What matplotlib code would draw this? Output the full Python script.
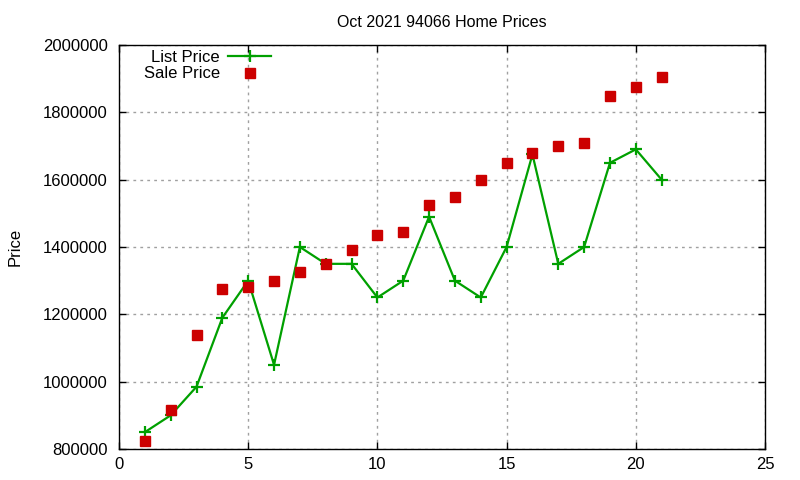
import matplotlib
matplotlib.use("Agg")
import matplotlib.pyplot as plt

plt.rcParams['font.family'] = ['Liberation Sans', 'DejaVu Sans']

# data
months = list(range(1, 22))
list_price = [850000, 900000, 985000, 1190000, 1300000, 1050000, 1400000,
              1350000, 1350000, 1250000, 1300000, 1490000, 1300000, 1250000,
              1400000, 1675000, 1350000, 1400000, 1650000, 1690000, 1600000]
sale_price = [825000, 915000, 1140000, 1275000, 1280000, 1300000, 1325000,
              1350000, 1390000, 1435000, 1445000, 1525000, 1550000, 1600000,
              1650000, 1680000, 1700000, 1710000, 1850000, 1875000, 1905000]
x_ticks = [0, 5, 10, 15, 20, 25]
y_ticks = [800000, 1000000, 1200000, 1400000, 1600000, 1800000, 2000000]

fig = plt.figure(figsize=(8, 4.8), dpi=100)
ax = fig.add_axes([119/800, 1 - 449/480, (765-119)/800, (449-45)/480])

ax.plot(months, list_price, color='#00a000', lw=1.6, marker='+',
        markersize=9, mew=1.6, label='List Price')
ax.plot(months, sale_price, ls='none', color='#cc0000', marker='s',
        markersize=6.5, label='Sale Price')

ax.set_xlim(0, 25)
ax.set_ylim(800000, 2000000)
ax.set_xticks(x_ticks)
ax.set_yticks(y_ticks)
ax.set_yticklabels([str(v) for v in y_ticks])
ax.tick_params(direction='in', top=True, right=True, labelsize=12,
               length=5, width=1)
ax.tick_params(axis='y', pad=8)
ax.tick_params(axis='x', pad=6)
ax.grid(True, color='#a0a0a0', ls=(0, (2, 3)), lw=1)
for s in ax.spines.values():
    s.set_linewidth(1)

ax.set_title('Oct 2021 94066 Home Prices', fontsize=11.5, pad=13)
ax.set_ylabel('Price', fontsize=12, labelpad=15)

leg = ax.legend(loc='upper left', bbox_to_anchor=(0.02, 1.017), frameon=False,
                markerfirst=False, fontsize=12, handlelength=2.6,
                borderaxespad=0.3, labelspacing=0.1, handletextpad=0.5)
for t in leg.get_texts():
    t.set_ha('right')

fig.savefig('out.png', dpi=100)
